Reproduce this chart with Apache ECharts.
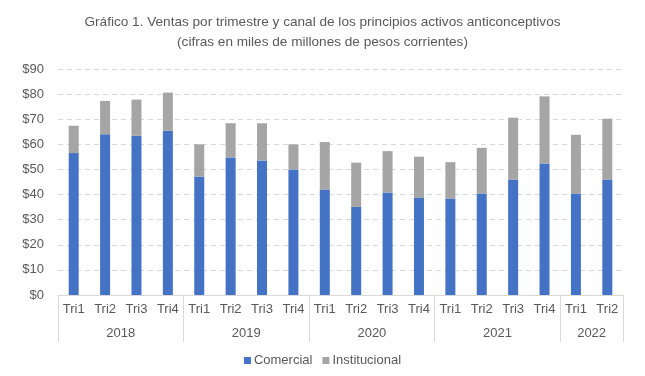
<!DOCTYPE html>
<html>
<head>
<meta charset="utf-8">
<script src="https://cdn.jsdelivr.net/npm/echarts@6/dist/echarts.min.js"></script>
<style>
  html, body { margin: 0; padding: 0; background: #fff; }
  #chart { width: 645px; height: 376px; }
</style>
</head>
<body>
<div id="chart"></div>
<script>
const quarters = ['Tri1', 'Tri2', 'Tri3', 'Tri4', 'Tri1', 'Tri2', 'Tri3', 'Tri4', 'Tri1', 'Tri2', 'Tri3', 'Tri4', 'Tri1', 'Tri2', 'Tri3', 'Tri4', 'Tri1', 'Tri2']
const years = ['2018', '2019', '2020', '2021', '2022']
const yearCounts = [4, 4, 4, 4, 2]
const comercial = [56.5, 64.0, 63.4, 65.4, 47.2, 54.8, 53.6, 50.0, 42.0, 35.1, 40.8, 38.8, 38.4, 40.4, 46.0, 52.4, 40.4, 46.0]
const institucional = [10.9, 13.3, 14.4, 15.2, 12.8, 13.6, 14.8, 10.0, 18.9, 17.6, 16.5, 16.3, 14.5, 18.2, 24.6, 26.7, 23.4, 24.2]

const font = '"Liberation Sans Narrow", "Arial Narrow", "Liberation Sans", sans-serif'
const textColor = '#595959'

// group boundaries and centres for the year row
let bounds = [0]
let centres = []
let labelByPos = {}
yearCounts.forEach((n, i) => {
  let start = bounds[bounds.length - 1]
  bounds.push(start + n)
  centres.push(start + n / 2)
  labelByPos[start + n / 2] = years[i]
})

let myChart = echarts.init(document.getElementById('chart'))
myChart.setOption({
  animation: false,
  title: {
    text: 'Gráfico 1. Ventas por trimestre y canal de los principios activos anticonceptivos\n(cifras en miles de millones de pesos corrientes)',
    left: 'center',
    top: 7,
    textStyle: {
      fontFamily: font,
      fontSize: 13.6,
      fontWeight: 'normal',
      color: textColor,
      lineHeight: 20
    }
  },
  legend: {
    data: ['Comercial', 'Institucional'],
    bottom: 4,
    left: 'center',
    itemWidth: 7,
    itemHeight: 7,
    itemGap: 10,
    icon: 'rect',
    textStyle: { fontFamily: font, fontSize: 13, color: textColor, padding: [0, 0, 0, -2] }
  },
  grid: {
    left: 58,
    right: 22,
    top: 69,
    bottom: 81
  },
  xAxis: [
    {
      type: 'category',
      data: quarters,
      axisTick: { show: false },
      axisLine: { lineStyle: { color: '#d9d9d9', width: 1 } },
      axisLabel: { fontFamily: font, fontSize: 13, color: textColor, margin: 8, interval: 0 }
    },
    {
      type: 'value',
      position: 'bottom',
      min: 0,
      max: quarters.length,
      splitLine: { show: false },
      axisLine: { show: false },
      axisTick: {
        show: true,
        customValues: bounds,
        length: 47,
        lineStyle: { color: '#d9d9d9' }
      },
      axisLabel: {
        customValues: centres,
        formatter: (v) => labelByPos[v] || '',
        fontFamily: font,
        fontSize: 13,
        color: textColor,
        margin: 32
      }
    }
  ],
  yAxis: {
    type: 'value',
    min: 0,
    max: 90,
    interval: 10,
    axisLine: { show: false },
    axisTick: { show: false },
    axisLabel: {
      formatter: '${value}',
      fontFamily: font,
      fontSize: 13,
      color: textColor,
      margin: 14
    },
    splitLine: { lineStyle: { color: '#d9d9d9', type: [5, 4] } }
  },
  series: [
    {
      name: 'Comercial',
      type: 'bar',
      stack: 'total',
      barWidth: 10,
      itemStyle: { color: '#4472c4' },
      data: comercial
    },
    {
      name: 'Institucional',
      type: 'bar',
      stack: 'total',
      barWidth: 10,
      itemStyle: { color: '#a5a5a5' },
      data: institucional
    }
  ]
})
</script>
</body>
</html>
